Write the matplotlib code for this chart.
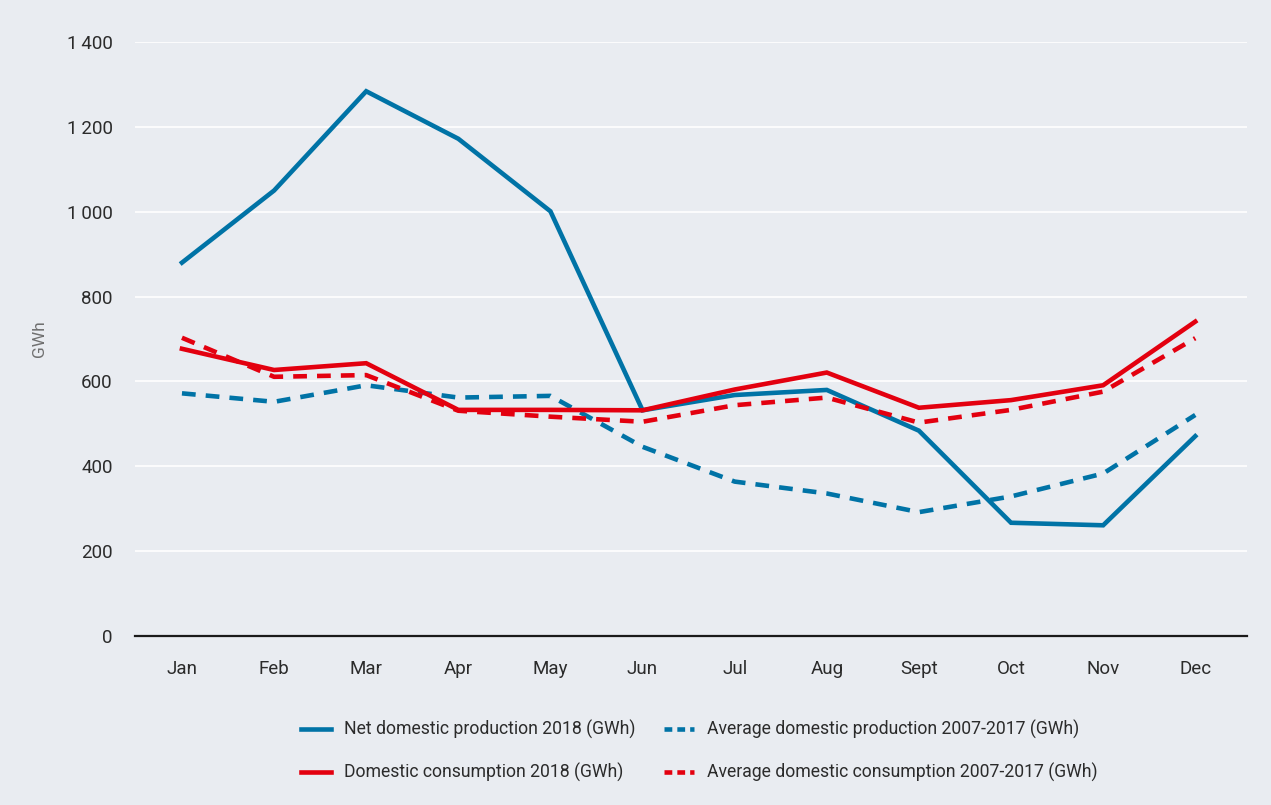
import matplotlib
matplotlib.use("Agg")
import matplotlib.pyplot as plt
from matplotlib.ticker import FixedLocator, FuncFormatter

plt.rcParams['font.family'] = ['Roboto', 'DejaVu Sans']

months = ["Jan", "Feb", "Mar", "Apr", "May", "Jun", "Jul", "Aug", "Sept", "Oct", "Nov", "Dec"]
net_production_2018 = [880, 1050, 1284, 1172, 1001, 532, 568, 580, 484, 267, 261, 471]
avg_production_2007_2017 = [572, 552, 591, 562, 566, 446, 364, 336, 292, 329, 383, 521]
consumption_2018 = [677, 627, 643, 533, 533, 532, 581, 621, 538, 556, 591, 741]
avg_consumption_2007_2017 = [703, 611, 615, 531, 517, 505, 544, 562, 503, 533, 576, 702]
y_ticks = [0, 200, 400, 600, 800, 1000, 1200, 1400]

BLUE = "#0073A6"
RED = "#E3000F"
BG = "#E9ECF1"
TXT = "#2b2b2b"

fig = plt.figure(figsize=(12.71, 8.05), dpi=100, facecolor=BG)
ax = fig.add_axes([0.1062, 0.2099, 0.8748, 0.7379])
ax.set_facecolor(BG)

x = list(range(len(months)))
lw = 3.3
l1, = ax.plot(x, net_production_2018, color=BLUE, lw=lw, solid_joinstyle='miter',
              label="Net domestic production 2018 (GWh)")
l2, = ax.plot(x, avg_production_2007_2017, color=BLUE, lw=lw, ls=(0, (3, 2.2)),
              label="Average domestic production 2007-2017 (GWh)")
l3, = ax.plot(x, consumption_2018, color=RED, lw=lw, solid_joinstyle='miter',
              label="Domestic consumption 2018 (GWh)")
l4, = ax.plot(x, avg_consumption_2007_2017, color=RED, lw=lw, ls=(0, (3, 2.2)),
              label="Average domestic consumption 2007-2017 (GWh)")

ax.set_xlim(-0.51, 11.56)
ax.set_ylim(0, 1400)
ax.yaxis.set_major_locator(FixedLocator(y_ticks))
ax.yaxis.set_major_formatter(FuncFormatter(lambda v, p: f"{int(v):,}".replace(",", "\u2009")))
ax.set_xticks(x)
ax.set_xticklabels(months)
ax.grid(axis='y', color='white', lw=1.2)
ax.set_axisbelow(True)
for s in ['left', 'right', 'top']:
    ax.spines[s].set_visible(False)
ax.spines['bottom'].set_color('#1a1a1a')
ax.spines['bottom'].set_linewidth(1.6)
ax.spines['bottom'].set_zorder(5)
ax.tick_params(axis='both', length=0, labelsize=13.5, labelcolor=TXT)
ax.tick_params(axis='x', pad=17)
ax.tick_params(axis='y', pad=16)
ax.set_ylabel("GWh", fontsize=12.5, color="#707070", labelpad=14)

leg = fig.legend(handles=[l1, l3, l2, l4], loc='center', bbox_to_anchor=(0.55, 0.067),
                 ncol=2, frameon=False, fontsize=12.7, handlelength=1.7,
                 labelspacing=1.35, columnspacing=1.6, handletextpad=0.75)
for t in leg.get_texts():
    t.set_color(TXT)
for i, h in enumerate(leg.get_lines()):
    h.set_linewidth(3.3)
    if i >= 2:
        h.set_dashes((1.7, 1.1))

fig.savefig("out.png", dpi=100, facecolor=BG)
